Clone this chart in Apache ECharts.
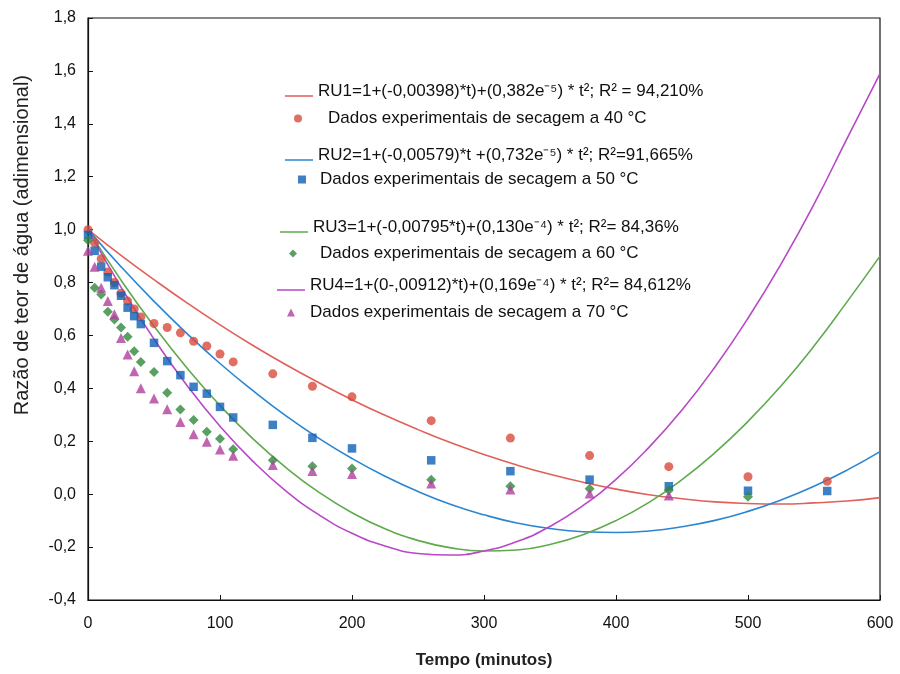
<!DOCTYPE html>
<html>
<head>
<meta charset="utf-8">
<script src="https://cdn.jsdelivr.net/npm/echarts@6/dist/echarts.min.js"></script>
<style>
html,body{margin:0;padding:0;background:#fff;}
#chart{width:900px;height:674px;}
</style>
</head>
<body>
<div id="chart"></div>
<script>
// ---- data ----
var xTicks = [0, 100, 200, 300, 400, 500, 600];
var yTicks = [-0.4, -0.2, 0.0, 0.2, 0.4, 0.6, 0.8, 1.0, 1.2, 1.4, 1.6, 1.8];
var xTitle = 'Tempo (minutos)';
var yTitle = 'Razão de teor de água (adimensional)';

// fitted model curves
var curveT = [0,25,50,75,100,125,150,175,200,225,250,275,300,325,350,375,400,425,450,475,500,525,550,575,600];
var ru1 = [1.00,0.903,0.811,0.723,0.640,0.562,0.489,0.421,0.357,0.298,0.244,0.194,0.150,0.110,0.075,0.045,0.019,-0.002,-0.017,-0.029,-0.035,-0.037,-0.033,-0.026,-0.013];
var ru2 = [1.00,0.860,0.729,0.607,0.494,0.391,0.296,0.211,0.135,0.068,0.010,-0.039,-0.078,-0.109,-0.130,-0.142,-0.145,-0.139,-0.123,-0.099,-0.065,-0.022,0.030,0.091,0.161];
var ru3 = [1.00,0.809,0.635,0.477,0.335,0.209,0.100,0.007,-0.070,-0.131,-0.175,-0.203,-0.215,-0.211,-0.190,-0.153,-0.100,-0.031,0.055,0.157,0.275,0.409,0.560,0.727,0.900];
var ru4 = [1.00,0.783,0.586,0.411,0.257,0.124,0.012,-0.078,-0.148,-0.196,-0.224,-0.230,-0.215,-0.179,-0.122,-0.043,0.056,0.177,0.318,0.481,0.665,0.870,1.096,1.344,1.590];

// experimental drying data
var expT = [0,5,10,15,20,25,30,35,40,50,60,70,80,90,100,110,140,170,200,260,320,380,440,500,560];
var dry40 = [1.00,0.95,0.89,0.84,0.80,0.76,0.73,0.70,0.67,0.645,0.63,0.61,0.578,0.56,0.53,0.50,0.455,0.408,0.368,0.278,0.212,0.146,0.104,0.066,0.049];
var dry50 = [0.98,0.92,0.86,0.82,0.79,0.75,0.705,0.673,0.643,0.572,0.503,0.45,0.406,0.38,0.33,0.29,0.262,0.213,0.173,0.128,0.087,0.055,0.030,0.013,0.012];
var dry60 = [0.96,0.78,0.755,0.69,0.66,0.63,0.595,0.54,0.50,0.462,0.383,0.32,0.28,0.236,0.21,0.17,0.128,0.106,0.097,0.055,0.030,0.021,0.015,-0.010,null];
var dry70 = [0.92,0.86,0.78,0.73,0.68,0.59,0.528,0.465,0.40,0.362,0.321,0.273,0.227,0.198,0.169,0.145,0.110,0.088,0.076,0.040,0.018,0.003,-0.005,null,null];

var names = [
  'RU1=1+(-0,00398)*t)+(0,382e\u207B\u2075) * t\u00B2; R\u00B2 = 94,210%',
  'Dados experimentais de secagem a 40 \u00B0C',
  'RU2=1+(-0,00579)*t +(0,732e\u207B\u2075) * t\u00B2; R\u00B2=91,665%',
  'Dados experimentais de secagem a 50 \u00B0C',
  'RU3=1+(-0,00795*t)+(0,130e\u207B\u2074) * t\u00B2; R\u00B2= 84,36%',
  'Dados experimentais de secagem a 60 \u00B0C',
  'RU4=1+(0-,00912)*t)+(0,169e\u207B\u2074) * t\u00B2; R\u00B2= 84,612%',
  'Dados experimentais de secagem a 70 \u00B0C'
];

function pairs(xs, ys){
  var out = [];
  for (var i = 0; i < xs.length; i++) if (ys[i] !== null) out.push([xs[i], ys[i]]);
  return out;
}

var lineColors = ['#e0605a', '#2b86d2', '#5eaa4c', '#b848c8'];
var markColors = ['#d84a3c', '#0f5fb5', '#2e8a3c', '#b0409e'];
var symbols = ['circle', 'rect', 'diamond', 'triangle'];
var symSizes = [9, 8.5, 10, 10];
var curves = [ru1, ru2, ru3, ru4];
var drys = [dry40, dry50, dry60, dry70];

var FONT = '"Liberation Sans", Arial, sans-serif';
var series = [];
for (var k = 0; k < 4; k++) {
  series.push({
    name: names[2*k], type: 'line', smooth: true, symbol: 'none',
    data: pairs(curveT, curves[k]),
    lineStyle: {color: lineColors[k], width: 1.6},
    itemStyle: {color: lineColors[k]}, z: 2
  });
}
for (var k2 = 0; k2 < 4; k2++) {
  series.push({
    name: names[2*k2+1], type: 'scatter', symbol: symbols[k2], symbolSize: symSizes[k2],
    data: pairs(expT, drys[k2]),
    itemStyle: {color: markColors[k2]}, z: 3
  });
}

// legend layout: [left, centerY, textPaddingLeft]
var legendLayout = [
  [285, 93, 0], [294, 120, 21],
  [285, 157, 0], [298, 181, 9],
  [280, 229, 0], [289, 255, 18],
  [277, 287, 0], [287, 314, 10]
];
var legends = [];
for (var i = 0; i < 8; i++) {
  var isLine = (i % 2 === 0);
  var si = Math.floor(i/2);
  var L = legendLayout[i];
  legends.push({
    data: [{name: names[i], icon: isLine ? 'path://M0,9 L28,9 L28,10.5 L0,10.5 Z M0,0 L0.01,0 L0.01,0.01 Z' : symbols[si]}],
    left: L[0],
    top: L[1] - 10,
    itemWidth: isLine ? 28 : 8,
    itemHeight: isLine ? 11 : 8,
    selectedMode: false,
    padding: 0,
    textStyle: {fontFamily: FONT, fontSize: 17, color: '#111', padding: [0,0,0,L[2]]}
  });
}

var chart = echarts.init(document.getElementById('chart'), null, {renderer: 'canvas'});
chart.setOption({
  animation: false,
  backgroundColor: '#fff',
  legend: legends,
  grid: {left: 88, right: 20, top: 18, bottom: 74, show: true, borderColor: '#111', borderWidth: 1.2, backgroundColor: 'transparent'},
  graphic: [{
    type: 'text', left: 12, top: 75, rotation: Math.PI/2,
    style: {text: yTitle, fontFamily: FONT, fontSize: 20, fill: '#222', align: 'center', verticalAlign: 'middle'}
  }],
  xAxis: {
    type: 'value', min: xTicks[0], max: xTicks[xTicks.length-1], interval: 100,
    name: xTitle, nameLocation: 'middle', nameGap: 52,
    nameTextStyle: {fontFamily: FONT, fontSize: 17, fontWeight: 'bold', color: '#222'},
    axisLine: {show: true, onZero: false, lineStyle: {color: '#111', width: 1.2}},
    axisTick: {show: true, inside: true, length: 5, lineStyle: {color: '#111'}},
    axisLabel: {fontFamily: FONT, fontSize: 16, color: '#111', margin: 16},
    splitLine: {show: false}
  },
  yAxis: {
    type: 'value', min: yTicks[0], max: yTicks[yTicks.length-1], interval: 0.2,
    axisLine: {show: true, onZero: false, lineStyle: {color: '#111', width: 1.2}},
    axisTick: {show: true, inside: true, length: 5, lineStyle: {color: '#111'}},
    axisLabel: {fontFamily: FONT, fontSize: 16, color: '#111', margin: 12,
      formatter: function(v){ return v.toFixed(1).replace('.', ','); }},
    splitLine: {show: false}
  },
  series: series
});
</script>
</body>
</html>
